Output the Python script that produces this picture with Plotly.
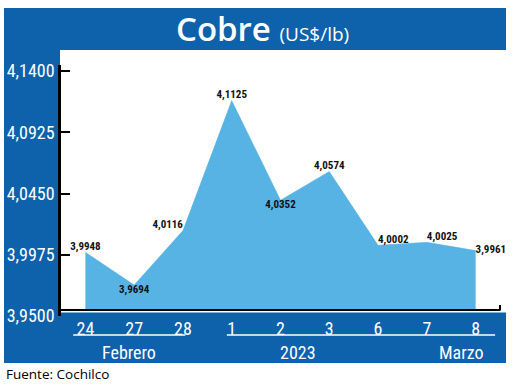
import plotly.graph_objects as go

# ---- data ----
days = ["24", "27", "28", "1", "2", "3", "6", "7", "8"]
prices = [3.9948, 3.9694, 4.0116, 4.1125, 4.0352, 4.0574, 4.0002, 4.0025, 3.9961]
label_pos = ["top center", "bottom center", "top left", "top center", "bottom center",
             "top center", "top right", "top right", "middle right"]
y_ticks = [3.9500, 3.9975, 4.0450, 4.0925, 4.1400]
groups = ["Febrero", "2023", "Marzo"]
group_x = [0.9, 4.35, 7.72]
underline_spans = [(-0.25, 2.05), (2.9, 8.4)]
baseline = 3.95

BLUE = "#0d62ab"
FILL = "#56b3e3"
NARROW = "Roboto Condensed, DejaVu Sans Condensed, sans-serif"

W, H = 520, 385
ML, MR, MT, MB = 61, 20, 65, 69
PW, PH = W - ML - MR, H - MT - MB
PX_PER_UNIT = 1289.0


def xp(px):
    return (px - ML) / PW


def yp(py):
    return (H - MB - py) / PH


span = PH / PX_PER_UNIT
tick_range = [3.95, 3.95 + span]              # 3.95 at the plot bottom
data_low = 3.95 - 6 / PX_PER_UNIT             # data baseline 6 px higher
data_range = [data_low, data_low + span]

labels = [f"{v:.4f}".replace(".", ",") for v in prices]

fig = go.Figure()
fig.add_trace(go.Scatter(x=days, y=[baseline] * len(days), mode="lines",
                         line=dict(width=0, color=FILL),
                         yaxis="y2", hoverinfo="skip", showlegend=False))
fig.add_trace(go.Scatter(x=days, y=prices, mode="lines+text", yaxis="y2",
                         fill="tonexty", fillcolor=FILL,
                         line=dict(width=0.5, color=FILL),
                         text=labels, textposition=label_pos,
                         textfont=dict(family=NARROW, size=11, color="#111111", weight="bold"),
                         cliponaxis=False, showlegend=False, hoverinfo="skip"))
# invisible trace to drive the tick axis
fig.add_trace(go.Scatter(x=days, y=prices, mode="lines", opacity=0,
                         yaxis="y", hoverinfo="skip", showlegend=False))

shapes = [
    # title band
    dict(type="rect", xref="paper", yref="paper", x0=xp(4), x1=xp(506), y0=yp(50), y1=yp(8),
         fillcolor=BLUE, line=dict(width=0), layer="below"),
    # left column
    dict(type="rect", xref="paper", yref="paper", x0=xp(4), x1=xp(60), y0=yp(363), y1=yp(50),
         fillcolor=BLUE, line=dict(width=0), layer="below"),
    # bottom band
    dict(type="rect", xref="paper", yref="paper", x0=xp(60), x1=xp(506), y0=yp(363), y1=yp(312.5),
         fillcolor=BLUE, line=dict(width=0), layer="below"),
    # horizontal axis line at the data baseline
    dict(type="line", xref="paper", yref="y2", x0=0, x1=xp(500.5), y0=baseline, y1=baseline,
         line=dict(color="black", width=2.2)),
    dict(type="line", xref="paper", yref="y2", x0=xp(500), x1=xp(500), y0=baseline,
         y1=baseline + 5 / PX_PER_UNIT, line=dict(color="black", width=2)),
]
for a, b in underline_spans:
    shapes.append(dict(type="line", xref="x", yref="paper", x0=a, x1=b, y0=yp(335), y1=yp(335),
                       line=dict(color="white", width=1.3)))

annotations = [
    dict(text="Cobre <span style='font-size:19px;font-weight:400'>(US$/lb)</span>",
         xref="paper", yref="paper", x=xp(262), y=yp(29), xanchor="center", yanchor="middle",
         showarrow=False,
         font=dict(family="Open Sans, sans-serif", size=33, color="white", weight=600)),
    dict(text="Fuente: Cochilco", xref="paper", yref="paper", x=xp(4), y=yp(374),
         xanchor="left", yanchor="middle", showarrow=False,
         font=dict(family="Open Sans, sans-serif", size=13.5, color="black")),
]
for g, gx in zip(groups, group_x):
    annotations.append(dict(text=g, xref="x", yref="paper", x=gx, y=yp(352),
                            xanchor="center", yanchor="middle", showarrow=False,
                            font=dict(family=NARROW, size=18, color="white")))

fig.update_layout(
    width=W, height=H,
    margin=dict(l=ML, r=MR, t=MT, b=MB, pad=0, autoexpand=False),
    paper_bgcolor="white", plot_bgcolor="rgba(0,0,0,0)",
    separators=", ",
    xaxis=dict(type="category", range=[-0.5, 8.5], showgrid=False, zeroline=False,
               showline=False, ticks="", automargin=False,
               tickfont=dict(family=NARROW, size=18, color="white"), fixedrange=True),
    yaxis=dict(range=tick_range, tickvals=y_ticks, tickformat=".4f", showgrid=False,
               zeroline=False, showline=True, linecolor="black", linewidth=2.5,
               ticks="inside", ticklen=9, tickwidth=2.2, tickcolor="black", automargin=False,
               tickfont=dict(family=NARROW, size=18, color="white"), fixedrange=True),
    yaxis2=dict(range=data_range, overlaying="y", side="left", visible=False, fixedrange=True),
    shapes=shapes, annotations=annotations,
    showlegend=False,
)

fig.write_html("out.html", config={"displayModeBar": False},
               post_script="document.body.style.margin='0px';")
